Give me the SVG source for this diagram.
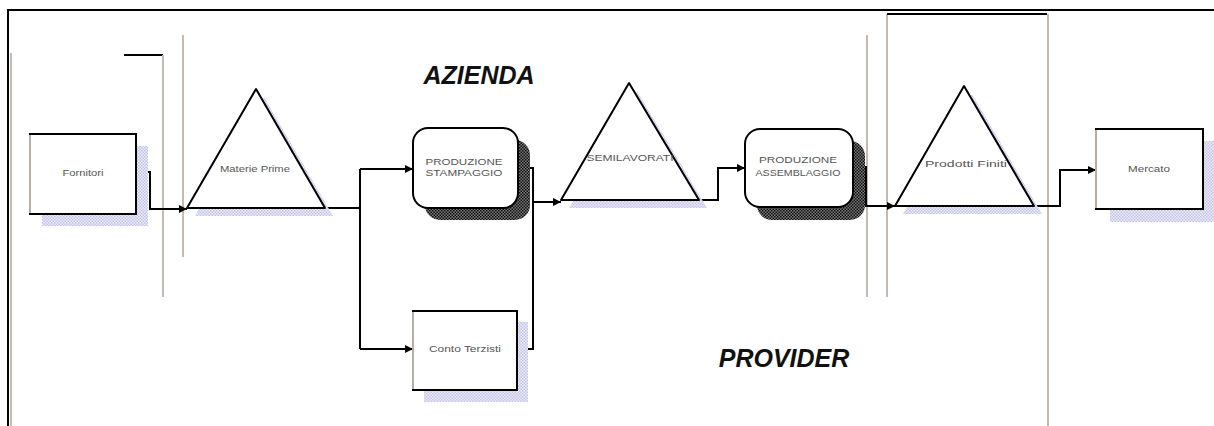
<svg xmlns="http://www.w3.org/2000/svg" width="1214" height="426" viewBox="0 0 1214 426">
<defs>
<pattern id="lite" width="3" height="3" patternUnits="userSpaceOnUse"><rect width="3" height="3" fill="#ececf8"/><rect width="1.5" height="1.5" fill="#c4c4ea"/><rect x="1.5" y="1.5" width="1.5" height="1.5" fill="#c4c4ea"/></pattern>
<pattern id="dark" width="3" height="3" patternUnits="userSpaceOnUse"><rect width="3" height="3" fill="#777"/><rect width="1.5" height="1.5" fill="#111"/><rect x="1.5" y="1.5" width="1.5" height="1.5" fill="#111"/></pattern>
<marker id="arr" viewBox="0 0 10 10" refX="10" refY="5" markerWidth="8" markerHeight="8" markerUnits="userSpaceOnUse" orient="auto"><path d="M0,0 L10,5 L0,10 z" fill="#000"/></marker>
<style>
.box{fill:#fff;stroke:#000;stroke-width:2}
.ledge{stroke:#b8ada5;stroke-width:2}
.grey{stroke:#c4bab2;stroke-width:2;fill:none}
.tri{fill:#fff;stroke:#000;stroke-width:2;stroke-linejoin:round}
.con{fill:none;stroke:#000;stroke-width:2}
.lbl{font-family:"Liberation Sans",Arial,sans-serif;font-size:9px;fill:#555;text-anchor:middle}
.big{font-family:"Liberation Sans",Arial,sans-serif;font-size:25px;font-weight:bold;font-style:italic;fill:#111;text-anchor:middle}
</style>
</defs>
<rect width="1214" height="426" fill="#fff"/>
<g id="frame">
<path d="M7,10 H1214 M8,10 V426" stroke="#000" stroke-width="2" fill="none"/>
<path class="grey" d="M11,53 V426"/>
<path d="M124,55 H163" stroke="#000" stroke-width="2"/>
<path class="grey" d="M163,55 V297 M183,35 V257 M867,35 V297 M887,14 V297 M1048,14 V426"/>
<path d="M887,14 H1047" stroke="#000" stroke-width="2"/>
</g>
<g id="labels">
<text class="big" x="479" y="84">AZIENDA</text>
<text class="big" x="784" y="367">PROVIDER</text>
</g>
<g id="connectors">
<path class="con" d="M136,172 H150 V209 H187" marker-end="url(#arr)"/>
<path class="con" d="M325,208 H360 M360,169 V349"/>
<path class="con" d="M360,169 H413" marker-end="url(#arr)"/>
<path class="con" d="M360,349 H413" marker-end="url(#arr)"/>
<path class="con" d="M518,168 H533 V349 H517"/>
<path class="con" d="M533,202 H561" marker-end="url(#arr)"/>
<path class="con" d="M699,200 H718 V168 H745" marker-end="url(#arr)"/>
<path class="con" d="M853,167 H866 V206 H895" marker-end="url(#arr)"/>
<path class="con" d="M1034,206 H1060 V170 H1096" marker-end="url(#arr)"/>
</g>
<g id="fornitori">
<rect x="42" y="146" width="106" height="80" fill="url(#lite)"/>
<rect class="box" x="30" y="134" width="106" height="80"/>
<path class="ledge" d="M30,135 V213"/>
<text class="lbl" x="83" y="176" textLength="41" lengthAdjust="spacingAndGlyphs">Fornitori</text>
</g>
<g id="materie-prime">
<polygon points="264,97 195,216 333,216" fill="url(#lite)"/>
<polygon class="tri" points="256,89 187,208 325,208"/>
<text class="lbl" x="255" y="172" textLength="70" lengthAdjust="spacingAndGlyphs">Materie Prime</text>
</g>
<g id="stampaggio">
<rect x="425" y="140" width="105" height="80" rx="15" fill="url(#dark)"/>
<rect class="box" x="413" y="128" width="105" height="80" rx="15"/>
<text class="lbl" x="464" y="165" textLength="77" lengthAdjust="spacingAndGlyphs">PRODUZIONE</text>
<text class="lbl" x="464" y="176" textLength="77" lengthAdjust="spacingAndGlyphs">STAMPAGGIO</text>
</g>
<g id="conto-terzisti">
<rect x="424" y="322" width="104" height="80" fill="url(#lite)"/>
<rect class="box" x="413" y="311" width="104" height="79"/>
<path class="ledge" d="M413,312 V389"/>
<text class="lbl" x="465" y="352" textLength="72" lengthAdjust="spacingAndGlyphs">Conto Terzisti</text>
</g>
<g id="semilavorati">
<polygon points="637,91 569,208 707,208" fill="url(#lite)"/>
<polygon class="tri" points="629,83 561,200 699,200"/>
<text class="lbl" x="630" y="161" textLength="87" lengthAdjust="spacingAndGlyphs">SEMILAVORATI</text>
</g>
<g id="assemblaggio">
<rect x="757" y="141" width="108" height="79" rx="15" fill="url(#dark)"/>
<rect class="box" x="745" y="129" width="108" height="78" rx="15"/>
<text class="lbl" x="798" y="163" textLength="78" lengthAdjust="spacingAndGlyphs">PRODUZIONE</text>
<text class="lbl" x="798" y="176" textLength="85" lengthAdjust="spacingAndGlyphs">ASSEMBLAGGIO</text>
</g>
<g id="prodotti-finiti">
<polygon points="972,94 903,214 1042,214" fill="url(#lite)"/>
<polygon class="tri" points="964,86 895,206 1034,206"/>
<text class="lbl" x="966" y="167" textLength="82" lengthAdjust="spacingAndGlyphs">Prodotti Finiti</text>
</g>
<g id="mercato">
<rect x="1110" y="141" width="104" height="81" fill="url(#lite)"/>
<rect class="box" x="1096" y="129" width="107" height="80"/>
<path class="ledge" d="M1096,130 V208"/>
<text class="lbl" x="1149" y="172" textLength="42" lengthAdjust="spacingAndGlyphs">Mercato</text>
</g>
</svg>
